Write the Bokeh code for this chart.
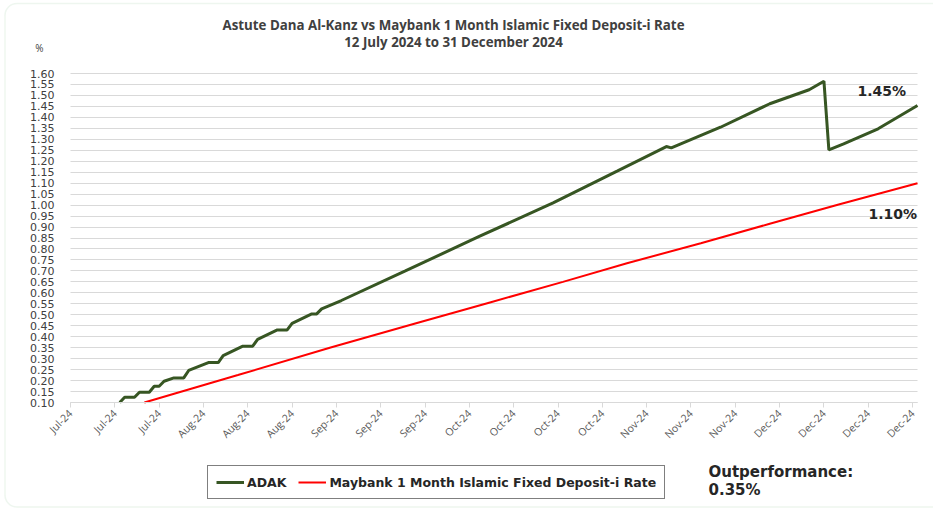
import math
from datetime import datetime, timedelta
from bokeh.plotting import figure
from bokeh.models import (FixedTicker, DatetimeTickFormatter, Label, Legend, LegendItem,
                          Range1d, NumeralTickFormatter, BoxAnnotation)
from bokeh.embed import file_html
from bokeh.resources import INLINE

# ---------------- data (visible part above 0.10) ----------------
adak_dates = ["2024-07-22",
              "2024-07-23", "2024-07-25", "2024-07-26", "2024-07-28", "2024-07-29",
              "2024-07-30", "2024-07-31", "2024-08-02", "2024-08-04", "2024-08-05",
              "2024-08-09", "2024-08-11", "2024-08-12", "2024-08-16", "2024-08-18",
              "2024-08-19", "2024-08-23", "2024-08-25", "2024-08-26", "2024-08-30",
              "2024-08-31", "2024-09-01", "2024-09-05", "2024-09-18", "2024-10-03",
              "2024-10-18", "2024-10-31", "2024-11-10", "2024-11-11", "2024-11-21",
              "2024-12-01", "2024-12-09", "2024-12-12", "2024-12-13", "2024-12-16",
              "2024-12-23", "2024-12-31"]
adak_values = [0.100,
               0.124, 0.124, 0.147, 0.147, 0.174,
               0.174, 0.197, 0.212, 0.212, 0.246,
               0.282, 0.282, 0.314, 0.357, 0.357,
               0.388, 0.431, 0.431, 0.461, 0.504,
               0.504, 0.527, 0.565, 0.700, 0.857,
               1.010, 1.155, 1.267, 1.261, 1.355,
               1.462, 1.526, 1.565, 1.252, 1.279,
               1.348, 1.454]

mbb_dates = ["2024-07-27", "2024-08-15", "2024-09-03", "2024-09-20",
             "2024-10-05", "2024-10-20", "2024-11-02", "2024-11-17", "2024-12-01",
             "2024-12-15", "2024-12-31"]
mbb_values = [0.100, 0.225, 0.352, 0.460,
              0.555, 0.650, 0.735, 0.826, 0.915,
              1.003, 1.100]

x_tick_dates = ["2024-07-12", "2024-07-21", "2024-07-30", "2024-08-08", "2024-08-17",
                "2024-08-26", "2024-09-04", "2024-09-13", "2024-09-22", "2024-10-01",
                "2024-10-10", "2024-10-19", "2024-10-28", "2024-11-06", "2024-11-15",
                "2024-11-24", "2024-12-03", "2024-12-12", "2024-12-21", "2024-12-30"]
y_ticks = [0.10, 0.15, 0.20, 0.25, 0.30, 0.35, 0.40, 0.45, 0.50, 0.55, 0.60, 0.65,
           0.70, 0.75, 0.80, 0.85, 0.90, 0.95, 1.00, 1.05, 1.10, 1.15, 1.20, 1.25,
           1.30, 1.35, 1.40, 1.45, 1.50, 1.55, 1.60]
x_start, x_end = "2024-07-12", "2024-12-31"
y_min, y_max = 0.10, 1.60

title_1 = "Astute Dana Al-Kanz vs Maybank 1 Month Islamic Fixed Deposit-i Rate"
title_2 = "12 July 2024 to 31 December 2024"
series_names = ["ADAK", "Maybank 1 Month Islamic Fixed Deposit-i Rate"]
end_labels = ["1.45%", "1.10%"]
outperf_lines = ["Outperformance:", "0.35%"]

# ---------------- layout (pixels) ----------------
W, H = 933, 509
PLOT_L, PLOT_R, PLOT_T, PLOT_B = 70, 917, 73, 402


def d(s):
    return datetime.strptime(s, "%Y-%m-%d")


def ms(s):
    return (d(s) - datetime(1970, 1, 1)).total_seconds() * 1000.0


# extend the ranges so that the plotting area sits at the wanted pixels while the
# frame covers the whole canvas (so texts outside the plot area are not clipped)
px_per_day = (PLOT_R - PLOT_L) / (d(x_end) - d(x_start)).days
xr0 = d(x_start) - timedelta(days=PLOT_L / px_per_day)
xr1 = d(x_end) + timedelta(days=(W - PLOT_R) / px_per_day)
px_per_unit = (PLOT_B - PLOT_T) / (y_max - y_min)
yr0 = y_min - (H - PLOT_B) / px_per_unit
yr1 = y_max + PLOT_T / px_per_unit

FONT = "Open Sans"
WIDE = "DejaVu Sans"

p = figure(width=W, height=H, output_backend="svg", toolbar_location=None,
           x_axis_type="datetime",
           x_range=Range1d(xr0, xr1), y_range=Range1d(yr0, yr1),
           min_border=0, min_border_left=0, min_border_right=0,
           min_border_top=0, min_border_bottom=0)
p.outline_line_color = None
p.background_fill_color = "white"
p.border_fill_color = "white"

# chart-area border (light green, rounded)
frame_box = BoxAnnotation(left=4.5, right=W + 20, bottom=2.5, top=H - 3,
                          left_units="screen", right_units="screen",
                          bottom_units="screen", top_units="screen",
                          fill_color=None, fill_alpha=0, line_color="#c8e2cb",
                          line_width=1.5, level="underlay")
if "border_radius" in frame_box.properties():
    frame_box.border_radius = 12
p.add_layout(frame_box)

# axes fixed inside the frame
p.xaxis.fixed_location = y_min
p.xaxis.bounds = (ms(x_start), ms(x_end))
p.yaxis.fixed_location = ms(x_start)
p.yaxis.bounds = (y_min, y_max)

# grid
p.xgrid.grid_line_color = None
g = p.ygrid[0]
g.grid_line_color = "#d9d9d9"
g.grid_line_width = 1
if "cross_bounds" in g.properties():
    g.cross_bounds = (ms(x_start), ms(x_end))
else:
    g.grid_line_color = None
    p.segment(x0=[d(x_start)] * len(y_ticks), x1=[d(x_end)] * len(y_ticks),
              y0=y_ticks, y1=y_ticks, line_color="#d9d9d9", line_width=1)

# y axis
p.yaxis.ticker = FixedTicker(ticks=y_ticks)
p.yaxis.formatter = NumeralTickFormatter(format="0.00")
p.yaxis.axis_line_color = None
p.yaxis.major_tick_line_color = None
p.yaxis.minor_tick_line_color = None
p.yaxis.major_label_standoff = 10
p.yaxis.major_label_text_font = WIDE
p.yaxis.major_label_text_font_size = "11px"
p.yaxis.major_label_text_color = "#404040"

# x axis
p.xaxis.ticker = FixedTicker(ticks=[ms(s) for s in x_tick_dates])
p.xaxis.formatter = DatetimeTickFormatter(days="%b-%y", months="%b-%y", years="%b-%y",
                                          hours="%b-%y", minutes="%b-%y", seconds="%b-%y",
                                          milliseconds="%b-%y")
p.xaxis.major_label_orientation = math.pi / 4
p.xaxis.axis_line_color = "#d9d9d9"
p.xaxis.major_tick_line_color = "#d9d9d9"
p.xaxis.major_tick_in = 0
p.xaxis.major_tick_out = 5
p.xaxis.minor_tick_line_color = None
p.xaxis.major_label_text_font = FONT
p.xaxis.major_label_text_font_size = "10.5px"
p.xaxis.major_label_text_color = "#595959"
p.xaxis.major_label_standoff = 4

# lines
r_mbb = p.line([d(s) for s in mbb_dates], mbb_values, line_color="#ff0000", line_width=2)
r_adak = p.line([d(s) for s in adak_dates], adak_values, line_color="#375623", line_width=3)

# legend
legend = Legend(items=[LegendItem(label=series_names[0], renderers=[r_adak]),
                       LegendItem(label=series_names[1], renderers=[r_mbb])],
                orientation="horizontal", location=(207, H - 499),
                border_line_color="black", border_line_width=1,
                background_fill_color="white", background_fill_alpha=1,
                label_text_font=WIDE, label_text_font_size="12.5px",
                label_text_font_style="bold", label_text_color="#262626",
                glyph_width=28, glyph_height=16, label_height=16, label_standoff=3,
                spacing=12, padding=8, margin=0)
p.add_layout(legend, "center")


def lab(px, py, text, size, style="bold", align="left", color="#262626", font=WIDE):
    p.add_layout(Label(x=px, y=H - py, x_units="screen", y_units="screen", text=text,
                       text_font=font, text_font_size=size, text_font_style=style,
                       text_color=color, text_align=align, text_baseline="middle"))


lab(453, 24, title_1, "13.3px", align="center", color="#404040", font=FONT)
lab(453, 41, title_2, "13.3px", align="center", color="#404040", font=FONT)
lab(39, 47, "%", "10px", style="normal", align="center", color="#404040", font=FONT)
lab(857, 90, end_labels[0], "14px")
lab(868, 213, end_labels[1], "14px")
lab(708, 471, outperf_lines[0], "15px")
lab(708, 489, outperf_lines[1], "15px")

open("out.html", "w").write(file_html(p, INLINE))
